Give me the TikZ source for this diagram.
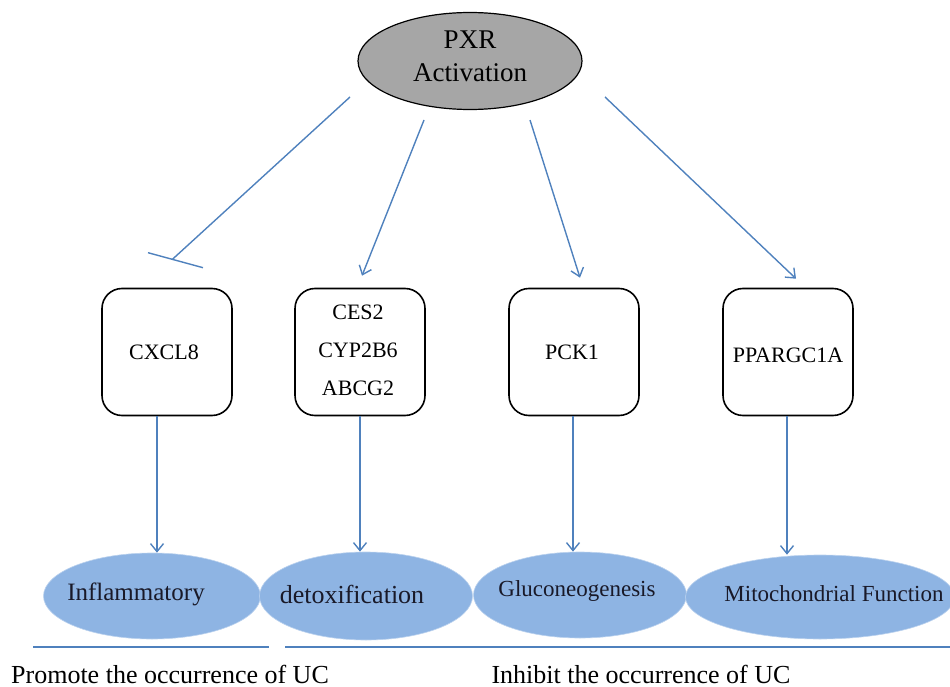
\documentclass[tikz,border=0pt]{standalone}
\usepackage{fontspec}
\setmainfont{Liberation Serif}
\usetikzlibrary{shapes.geometric,arrows.meta}
\definecolor{arrblue}{RGB}{79,129,189}
\definecolor{ellblue}{RGB}{142,180,227}
\definecolor{pxrgray}{RGB}{166,166,166}
\definecolor{txtdark}{RGB}{25,25,40}
\begin{document}
\begin{tikzpicture}[x=1pt,y=-1pt,
  gene/.style={draw=black, line width=1.6pt, rounded corners=20pt,
    minimum width=130pt, minimum height=127pt, inner sep=0pt},
  outcome/.style={ellipse, fill=ellblue, draw=ellblue!60!white, line width=0.6pt, inner sep=0pt},
  genetxt/.style={inner sep=0pt, font=\fontsize{22}{38}\selectfont, align=center},
  outtxt/.style={inner sep=0pt, text=txtdark},
  conn/.style={draw=arrblue, line width=1.4pt, -{Straight Barb[length=8pt,width=13pt,line width=1.4pt]}},
  inhib/.style={draw=arrblue, line width=1.4pt},
  sep/.style={draw=arrblue, line width=2pt},
  foot/.style={inner sep=0pt, font=\fontsize{26}{30}\selectfont}
]
\useasboundingbox (0,0) rectangle (950,687);

% top node
\node[ellipse, draw=black, line width=1.2pt, fill=pxrgray, minimum width=224pt, minimum height=97pt, inner sep=0pt] (pxr) at (470,61) {};
\node[inner sep=0pt, font=\fontsize{27}{33}\selectfont, align=center] (pxrtxt) at (470,56) {PXR\\Activation};

% gene boxes
\node[gene] (cx8) at (167,352) {};
\node[genetxt] (cx8t) at (164,352) {CXCL8};
\node[gene] (ces) at (360,352) {};
\node[genetxt] (cest) at (358,350) {CES2\\CYP2B6\\ABCG2};
\node[gene] (pck) at (574,352) {};
\node[genetxt] (pckt) at (572,352) {PCK1};
\node[gene] (ppa) at (788,352) {};
\node[genetxt] (ppat) at (788,355) {PPARGC1A};

% outcome ellipses
\node[outcome, minimum width=217pt, minimum height=86pt] (inf) at (152,596) {};
\node[outcome, minimum width=213pt, minimum height=88pt] (det) at (366,596) {};
\node[outcome, minimum width=213pt, minimum height=86pt] (glu) at (580,595) {};
\node[outcome, minimum width=269pt, minimum height=84pt] (mit) at (820,597) {};
\node[outtxt, font=\fontsize{25}{30}\selectfont] (inft) at (136,594) {Inflammatory};
\node[outtxt, font=\fontsize{26}{30}\selectfont] (dett) at (352,594) {detoxification};
\node[outtxt, font=\fontsize{23}{28}\selectfont] (glut) at (577,591) {Gluconeogenesis};
\node[outtxt, font=\fontsize{23}{28}\selectfont] (mitt) at (834,594) {Mitochondrial Function};

% connectors from PXR
\coordinate (s1) at ([shift={(-120,36)}]pxr.center);
\coordinate (s2) at ([shift={(-46,59)}]pxr.center);
\coordinate (s3) at ([shift={(60,59)}]pxr.center);
\coordinate (s4) at ([shift={(135,36)}]pxr.center);
\coordinate (e1) at ([shift={(5,-28)}]cx8.north);
\coordinate (e2) at ([shift={(2,-12)}]ces.north);
\coordinate (e3) at ([shift={(6,-10)}]pck.north);
\coordinate (e4) at ([shift={(8,-9)}]ppa.north);

\draw[inhib] (s1) -- (e1);
\draw[inhib] ([shift={(-24,-7)}]e1) -- ([shift={(31,8)}]e1);
\draw[conn] (s2) -- (e2);
\draw[conn] (s3) -- (e3);
\draw[conn] (s4) -- (e4);

% connectors from genes to outcomes
\draw[conn] ([xshift=-10pt]cx8.south) -- ([xshift=-10pt]cx8.south |- inf.north);
\draw[conn] (ces.south) -- (ces.south |- det.north);
\draw[conn] ([xshift=-1pt]pck.south) -- ([xshift=-1pt]pck.south |- glu.north);
\draw[conn] ([xshift=-1pt]ppa.south) -- ([xshift=-1pt]ppa.south |- mit.north);

% separators and footers
\draw[sep] (33,647) -- (269,647);
\draw[sep] (285,647) -- (950,647);
\node[foot] (prom) at (170,674) {Promote the occurrence of UC};
\node[foot] (inh) at (641,674) {Inhibit the occurrence of UC};
\end{tikzpicture}
\end{document}
